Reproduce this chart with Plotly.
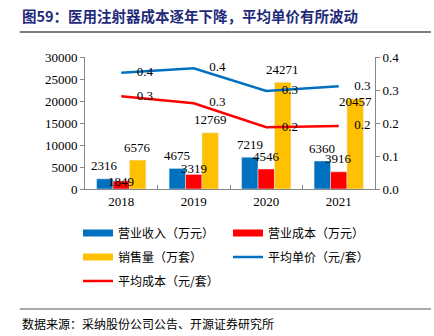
import plotly.graph_objects as go

years = ["2018", "2019", "2020", "2021"]
revenue = [2316, 4675, 7219, 6360]
cost = [1849, 3319, 4546, 3916]
volume = [6576, 12769, 24271, 20457]
avg_price = [0.352, 0.366, 0.297, 0.311]
avg_cost = [0.281, 0.260, 0.187, 0.191]

names = ["营业收入（万元）", "营业成本（万元）", "销售量（万套）", "平均单价（元/套）", "平均成本（元/套）"]
BLUE, RED, YEL = "#0070C0", "#FF0000", "#FFC000"
SERIF = "Liberation Serif"
CJK = "Noto Sans CJK SC"

W, H = 434, 336
ML, MR, MT, MB = 85, 59, 57, 147
PW = W - ML - MR
BARGAP = 0.32
bar_w = PW / len(years) * (1 - BARGAP) / 3

# label nudges (px) for a few data labels, as in the reference
nudge = {(1, 0): -14, (1, 1): -7.5, (2, 3): -16}

fig = go.Figure()
bar_series = [(revenue, BLUE, names[0]), (cost, RED, names[1]), (volume, YEL, names[2])]
for si, (vals, col, nm) in enumerate(bar_series):
    fig.add_trace(go.Bar(x=years, y=vals, marker_color=col, showlegend=False, name=nm))
    for yi, v in enumerate(vals):
        # category axis: annotation x is the category index
        fig.add_annotation(x=yi, y=v, xref="x", yref="y", text=str(v), showarrow=False,
                           xshift=(si - 1) * bar_w, yshift=13 + nudge.get((si, yi), 0),
                           xanchor="center", yanchor="middle",
                           font=dict(family=SERIF, size=13, color="black"))
for vals, col, nm in [(avg_price, BLUE, names[3]), (avg_cost, RED, names[4])]:
    fig.add_trace(go.Scatter(x=years, y=vals, yaxis="y2", mode="lines+markers+text",
                             line=dict(color=col, width=2.5), showlegend=False, name=nm,
                             marker=dict(size=23, color="rgba(0,0,0,0)"),
                             text=[f"{v:.1f}" for v in vals], textposition="middle right",
                             cliponaxis=False, hoverinfo="skip",
                             textfont=dict(family=SERIF, size=13, color="black")))

# legend entries, one legend per row
legend_rows = [
    [(names[0], BLUE, 7), (names[1], RED, 7)],
    [(names[2], YEL, 7), (names[3], BLUE, 2.5)],
    [(names[4], RED, 2.5)],
]
row_px = [233, 257, 281]
legend_keys = ["legend", "legend2", "legend3"]
layout_legends = {}
for key, row, ypx in zip(legend_keys, legend_rows, row_px):
    for nm, col, w in row:
        fig.add_trace(go.Scatter(x=[years[0]], y=[None], mode="lines", name=nm, legend=key,
                                 line=dict(color=col, width=w)))
    layout_legends[key] = dict(orientation="h", x=(78 - ML) / PW, xanchor="left",
                               y=1 - (ypx - MT) / (H - MT - MB), yanchor="middle",
                               entrywidth=105, entrywidthmode="pixels",
                               font=dict(family=CJK, size=12, color="black"),
                               bgcolor="rgba(0,0,0,0)")

fig.update_layout(
    width=W, height=H, margin=dict(l=ML, r=MR, t=MT, b=MB),
    paper_bgcolor="white", plot_bgcolor="white",
    barmode="group", bargap=BARGAP, bargroupgap=0,
    xaxis=dict(type="category", categoryorder="array", categoryarray=years,
               range=[-0.5, len(years) - 0.5],
               showline=True, linecolor="#868686", linewidth=1,
               ticks="inside", tickson="boundaries", ticklen=4, tickcolor="#868686",
               tickfont=dict(family=SERIF, size=13, color="black")),
    yaxis=dict(range=[0, 30000], dtick=5000, tickformat="d", showgrid=False, showline=True,
               linecolor="#868686", ticks="outside", ticklen=4, tickcolor="#868686",
               tickfont=dict(family=SERIF, size=13, color="black"), zeroline=False),
    yaxis2=dict(range=[0, 0.4], dtick=0.1, tickformat=".1f", overlaying="y", side="right",
                showgrid=False, showline=True, linecolor="#868686", ticks="outside",
                ticklen=4, tickcolor="#868686", zeroline=False,
                tickfont=dict(family=SERIF, size=13, color="black")),
    showlegend=True,
    **layout_legends,
)
fig.add_annotation(text="<b>图59：医用注射器成本逐年下降，平均单价有所波动</b>", xref="paper", yref="paper",
                   x=-0.225, y=1.0, yshift=42, xanchor="left", yanchor="middle", showarrow=False,
                   font=dict(family=CJK, size=14.5, color="#1F2A7A"))
fig.add_shape(type="line", xref="paper", yref="paper", x0=-0.225, x1=1.193, y0=1.189, y1=1.189,
              line=dict(color="#555555", width=1.5))
fig.add_shape(type="line", xref="paper", yref="paper", x0=-0.225, x1=1.193, y0=-0.909, y1=-0.909,
              line=dict(color="#555555", width=1))
fig.add_annotation(text="数据来源：采纳股份公司公告、开源证券研究所", xref="paper", yref="paper",
                   x=-0.225, y=0, yshift=-134, xanchor="left", yanchor="middle", showarrow=False,
                   font=dict(family=CJK, size=12, color="black"))
fig.write_html("out.html")
